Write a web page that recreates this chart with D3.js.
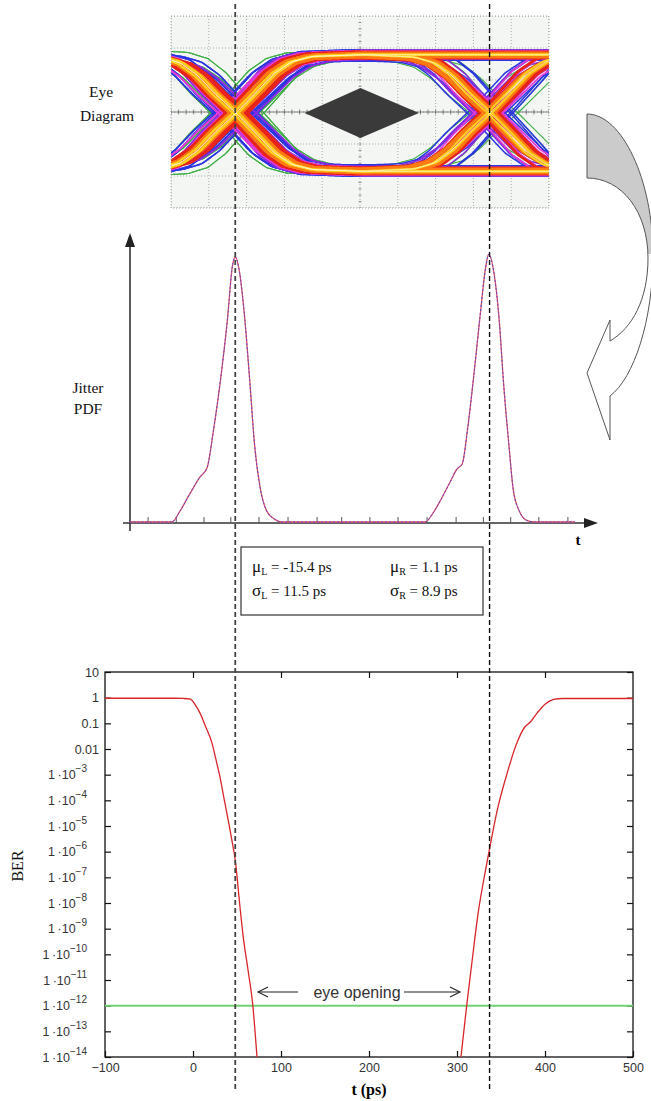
<!DOCTYPE html>
<html>
<head>
<meta charset="utf-8">
<script src="https://cdnjs.cloudflare.com/ajax/libs/d3/7.8.5/d3.min.js"></script>
<style>
  body { margin: 0; background: #fff; }
  svg { display: block; }
</style>
</head>
<body>
<svg id="chart" width="651" height="1101"></svg>
<script>
// ---------- data ----------

// BER plot
var tTicks = [-100, 0, 100, 200, 300, 400, 500];
var berTickExp = [1, 0, -1, -2, -3, -4, -5, -6, -7, -8, -9, -10, -11, -12, -13, -14];
var berLeftT = [-100, -20, -11, -3, 3, 8, 14, 21.6, 26, 30.7, 35, 40, 44, 48, 53.4, 57, 62.5, 68, 72.7];
var berLeftV = [0.95, 0.95, 0.93, 0.87, 0.5, 0.25, 0.08, 0.017, 4e-3, 8e-4, 1.3e-4, 1.7e-5, 3e-6, 4.7e-7, 7e-9, 5e-10, 2.5e-11, 1e-12, 1e-14];
var berRightT = [304.5, 311, 317, 324, 332, 337.5, 345, 357, 368, 377, 383, 391, 400, 410, 420, 500];
var berRightV = [1e-14, 1e-12, 5e-11, 4e-9, 1.6e-7, 1.6e-6, 3.2e-5, 1.15e-3, 0.017, 0.072, 0.11, 0.25, 0.56, 0.85, 0.93, 0.93];
var berTarget = 1e-12;
var edgeCenters = [48, 337];   // ps, where the dashed guide lines sit

// jitter PDF (normalised height)
var pdfT = [-72, -24, -15, -3, 8, 16, 23, 31, 39, 45, 48, 53, 59, 65, 70, 76, 84, 93, 101, 150, 200,
            264, 272, 281, 292, 300, 306, 312, 319, 326, 333, 336, 342, 348, 353, 359, 364, 371, 380, 388, 434];
var pdfV = [0, 0, 0.04, 0.11, 0.17, 0.205, 0.34, 0.53, 0.76, 0.97, 1.0, 0.94, 0.76, 0.51, 0.29, 0.135, 0.04, 0.01, 0, 0, 0,
            0, 0.03, 0.08, 0.15, 0.20, 0.22, 0.35, 0.55, 0.77, 0.97, 1.01, 0.94, 0.76, 0.52, 0.29, 0.12, 0.04, 0.005, 0, 0];
var pdfTicks = [-51, -19, 12.5, 43, 75, 108, 141, 169, 201, 233, 266, 299, 330, 361, 393, 426];

// fitted parameters
var statSymbols = ["μ", "σ"];
var statSides = ["L", "R"];
var statValues = [[-15.4, 1.1], [11.5, 8.9]];

// eye diagram: bits before / between / after the two crossings
var eyePatterns = [[0, 1, 0], [0, 1, 1], [1, 0, 1], [1, 0, 0]];
// edge shape: offset from crossing (UI) -> fraction of the swing
var edgeU = [-0.5, -0.3, -0.22, -0.15, -0.08, 0, 0.08, 0.15, 0.22, 0.3, 0.5];
var edgeF = [0, 0.02, 0.07, 0.18, 0.34, 0.5, 0.68, 0.84, 0.94, 0.985, 1];
// persistence layers, each trace = [jitter at crossing 0, jitter at crossing 1, amplitude offset]
var eyeLayers = [
  {color: "#3fae45", width: 1.1, traces: [[-0.10, 0.09, 0.07], [0.09, -0.08, -0.08], [-0.06, 0.11, -0.04], [0.11, 0.05, 0.09]]},
  {color: "#2b35e0", width: 1.5, traces: [[-0.08, -0.07, 0.05], [0.07, 0.06, -0.07], [-0.05, 0.08, 0.09], [0.06, -0.05, -0.09], [-0.09, 0.03, 0.0], [0.04, 0.09, 0.06], [0.085, -0.09, 0.02]]},
  {color: "#8b2be0", width: 1.5, traces: [[-0.06, 0.05, 0.07], [0.05, -0.06, -0.05], [-0.03, -0.07, 0.03], [0.08, 0.02, -0.07]]},
  {color: "#e23ad6", width: 1.7, traces: [[-0.05, -0.03, 0.06], [0.04, 0.05, -0.06], [0.0, -0.06, 0.08], [-0.07, 0.04, -0.03]]},
  {color: "#e8231c", width: 2.8, traces: [[-0.04, 0.03, 0.04], [0.03, -0.03, -0.04], [-0.02, -0.04, 0.055], [0.045, 0.035, -0.015], [-0.03, 0.0, -0.055]]},
  {color: "#ff7b12", width: 2.8, traces: [[-0.025, 0.02, 0.02], [0.02, -0.02, -0.02], [0.0, 0.01, 0.035], [-0.01, -0.025, -0.035]]},
  {color: "#ffd21e", width: 1.9, traces: [[-0.012, 0.008, 0.0], [0.01, -0.01, 0.015]]},
  {color: "#fff6c8", width: 0.8, traces: [[0, 0, 0.005]]}
];
// mask diamond (UI, level)
var eyeMask = [[0.27, 0], [0.49, 0.43], [0.72, 0], [0.49, -0.43]];

// ---------- drawing ----------
var svg = d3.select("#chart");
var defs = svg.append("defs");
var serif = "'Liberation Serif', 'Times New Roman', serif";
var sans = "'Liberation Sans', Arial, sans-serif";

// shared time scale (ps)
var x = d3.scaleLinear().domain([-100, 500]).range([105, 633]);

// ===== eye diagram =====
var eyeBox = {x0: 171, x1: 549, y0: 16, y1: 208};
var eyeX = d3.scaleLinear().domain([0, 1]).range([236, 490]);
var eyeY = d3.scaleLinear().domain([-1, 1]).range([171, 55]);
defs.append("clipPath").attr("id", "eyeClip").append("rect")
  .attr("x", eyeBox.x0).attr("y", eyeBox.y0)
  .attr("width", eyeBox.x1 - eyeBox.x0).attr("height", eyeBox.y1 - eyeBox.y0);

var eye = svg.append("g").attr("clip-path", "url(#eyeClip)");
eye.append("rect")
  .attr("x", eyeBox.x0).attr("y", eyeBox.y0)
  .attr("width", eyeBox.x1 - eyeBox.x0).attr("height", eyeBox.y1 - eyeBox.y0)
  .attr("fill", "#f4f6f4");

var colW = (eyeBox.x1 - eyeBox.x0) / 10, rowH = (eyeBox.y1 - eyeBox.y0) / 6;
d3.range(11).forEach(function(i) {
  eye.append("line")
    .attr("x1", eyeBox.x0 + i * colW).attr("x2", eyeBox.x0 + i * colW)
    .attr("y1", eyeBox.y0).attr("y2", eyeBox.y1)
    .attr("stroke", "#a9aca9").attr("stroke-width", 1).attr("stroke-dasharray", "1,2");
});
d3.range(7).forEach(function(i) {
  eye.append("line")
    .attr("x1", eyeBox.x0).attr("x2", eyeBox.x1)
    .attr("y1", eyeBox.y0 + i * rowH).attr("y2", eyeBox.y0 + i * rowH)
    .attr("stroke", "#a9aca9").attr("stroke-width", 1).attr("stroke-dasharray", "1,2");
});
// minor ticks on the centre axes
var cy = eyeBox.y0 + 3 * rowH, cx = eyeBox.x0 + 5 * colW;
d3.range(51).forEach(function(i) {
  eye.append("line")
    .attr("x1", eyeBox.x0 + i * colW / 5).attr("x2", eyeBox.x0 + i * colW / 5)
    .attr("y1", cy - 2.5).attr("y2", cy + 2.5)
    .attr("stroke", "#666").attr("stroke-width", 0.8);
});
d3.range(31).forEach(function(i) {
  eye.append("line")
    .attr("x1", cx - 1.5).attr("x2", cx + 1.5)
    .attr("y1", eyeBox.y0 + i * rowH / 5).attr("y2", eyeBox.y0 + i * rowH / 5)
    .attr("stroke", "#777").attr("stroke-width", 0.8);
});
eye.append("line").attr("x1", eyeBox.x0).attr("x2", eyeBox.x1).attr("y1", cy).attr("y2", cy)
  .attr("stroke", "#666").attr("stroke-width", 0.8);

var edgeStep = d3.scaleLinear().domain(edgeU).range(edgeF).clamp(true);
var uSamples = d3.range(-0.3, 1.27, 0.01);
var traceLine = d3.line().curve(d3.curveBasis);

eyeLayers.forEach(function(layer) {
  layer.traces.forEach(function(tr) {
    eyePatterns.forEach(function(p) {
      var s = p.map(function(b) { return 2 * b - 1; });
      var pts = uSamples.map(function(u) {
        var w = s[0] + (s[1] - s[0]) * edgeStep(u - tr[0]) + (s[2] - s[1]) * edgeStep(u - 1 - tr[1]);
        return [eyeX(u), eyeY(w * (1 + tr[2]))];
      });
      eye.append("path")
        .attr("d", traceLine(pts))
        .attr("fill", "none")
        .attr("stroke", layer.color)
        .attr("stroke-width", layer.width);
    });
  });
});

eye.append("polygon")
  .attr("points", eyeMask.map(function(d) { return eyeX(d[0]) + "," + eyeY(d[1]); }).join(" "))
  .attr("fill", "#3a3a3a");

svg.append("rect")
  .attr("x", eyeBox.x0).attr("y", eyeBox.y0)
  .attr("width", eyeBox.x1 - eyeBox.x0).attr("height", eyeBox.y1 - eyeBox.y0)
  .attr("fill", "none").attr("stroke", "#9a9d9a").attr("stroke-dasharray", "1,2");

// side labels
[["Eye", 101, 97], ["Diagram", 107, 121], ["Jitter", 88, 393], ["PDF", 88, 414]].forEach(function(d) {
  svg.append("text").attr("x", d[1]).attr("y", d[2])
    .attr("text-anchor", "middle")
    .style("font-family", serif).style("font-size", "15.5px").attr("fill", "#111")
    .text(d[0]);
});

// ===== curved arrow on the right =====
var arrowD = "M587,114 C622,114 653,180 653,255 C653,320 634,378 610,396 " +
             "L610,440 L587,373 L610,320 L610,341 " +
             "C632,328 648,300 648,258 C648,212 622,178 587,178 Z";
defs.append("clipPath").attr("id", "arrowTop").append("rect")
  .attr("x", 560).attr("y", 90).attr("width", 100).attr("height", 164);
svg.append("path").attr("d", arrowD).attr("fill", "#fff");
svg.append("path").attr("d", arrowD).attr("fill", "#cbcbcb").attr("clip-path", "url(#arrowTop)");
svg.append("path").attr("d", arrowD).attr("fill", "none").attr("stroke", "#555").attr("stroke-width", 1);

// ===== jitter PDF =====
var pdfY = d3.scaleLinear().domain([0, 1]).range([522, 257]);
var pdfAxisY = 523;
var pdfG = svg.append("g");
pdfG.append("line").attr("x1", 130).attr("x2", 130).attr("y1", 531).attr("y2", 244)
  .attr("stroke", "#333").attr("stroke-width", 1.6);
pdfG.append("path").attr("d", "M130,233 L125,247 L135,247 Z").attr("fill", "#222");
pdfG.append("line").attr("x1", 123).attr("x2", 588).attr("y1", pdfAxisY).attr("y2", pdfAxisY)
  .attr("stroke", "#333").attr("stroke-width", 1.6);
pdfG.append("path").attr("d", "M598,523 L584,518 L584,528 Z").attr("fill", "#222");
pdfTicks.forEach(function(t) {
  pdfG.append("line").attr("x1", x(t)).attr("x2", x(t)).attr("y1", pdfAxisY).attr("y2", pdfAxisY - 6)
    .attr("stroke", "#555").attr("stroke-width", 1);
});
var pdfPts = pdfT.map(function(t, i) { return [x(t), pdfY(pdfV[i])]; });
var pdfLine = d3.line().curve(d3.curveMonotoneX);
pdfG.append("path").attr("d", pdfLine(pdfPts)).attr("fill", "none")
  .attr("stroke", "#e0506a").attr("stroke-width", 1.3);
pdfG.append("path").attr("d", pdfLine(pdfPts)).attr("fill", "none")
  .attr("stroke", "#5a46c8").attr("stroke-width", 1).attr("stroke-dasharray", "2,2");
svg.append("text").attr("x", 578).attr("y", 545).attr("text-anchor", "middle")
  .style("font-family", serif).style("font-size", "15px").style("font-weight", "bold").text("t");

// ===== parameter box =====
svg.append("rect").attr("x", 241).attr("y", 547).attr("width", 242).attr("height", 68)
  .attr("fill", "#fff").attr("stroke", "#333").attr("stroke-width", 1.2);
statSymbols.forEach(function(sym, r) {
  statSides.forEach(function(side, c) {
    var t = svg.append("text")
      .attr("x", c === 0 ? 252 : 390).attr("y", 572 + r * 24)
      .style("font-family", serif).style("font-size", "15px").attr("fill", "#111");
    t.append("tspan").style("font-size", "17px").text(sym);
    t.append("tspan").style("font-size", "10px").attr("dy", 3).text(side);
    t.append("tspan").attr("dy", -3).text(" = " + statValues[r][c].toFixed(1) + " ps");
  });
});

// ===== BER plot =====
var y = d3.scaleLog().domain([1e-14, 10]).range([1057, 672]);
var berTicks = berTickExp.map(function(e) { return Math.pow(10, e); });
var plot = {x0: 105, x1: 633, y0: 672, y1: 1057};
defs.append("clipPath").attr("id", "berClip").append("rect")
  .attr("x", plot.x0).attr("y", plot.y0).attr("width", plot.x1 - plot.x0).attr("height", plot.y1 - plot.y0);

var axisStyle = function(g) {
  g.select(".domain").remove();
  g.selectAll(".tick line").attr("stroke", "#111").attr("stroke-width", 1.2);
  g.selectAll(".tick text").style("font-family", sans).style("font-size", "12.5px").attr("fill", "#333");
};
svg.append("g").attr("transform", "translate(0," + plot.y1 + ")")
  .call(d3.axisBottom(x).tickValues(tTicks).tickSizeInner(-6).tickSizeOuter(0).tickPadding(6))
  .call(axisStyle);
svg.append("g").attr("transform", "translate(0," + plot.y0 + ")")
  .call(d3.axisTop(x).tickValues(tTicks.slice(1, -1)).tickSizeInner(-6).tickSizeOuter(0).tickFormat(""))
  .call(axisStyle);
svg.append("g").attr("transform", "translate(" + plot.x0 + ",0)")
  .call(d3.axisLeft(y).tickValues(berTicks).tickSizeInner(-6).tickSizeOuter(0).tickFormat(""))
  .call(axisStyle);
svg.append("g").attr("transform", "translate(" + plot.x1 + ",0)")
  .call(d3.axisRight(y).tickValues(berTicks).tickSizeInner(-6).tickSizeOuter(0).tickFormat(""))
  .call(axisStyle);

// y tick labels, "1·10^-n" style
berTicks.forEach(function(v, i) {
  var e = berTickExp[i];
  var t = svg.append("text").attr("y", y(v)).attr("dy", "0.36em")
    .attr("text-anchor", "end")
    .style("font-family", sans).style("font-size", "12.5px").attr("fill", "#333");
  if (e >= -2) {
    t.attr("x", 99).text(d3.format("~g")(v));
  } else {
    t.attr("x", 87);
    t.append("tspan").text("1\u2009·10");
    t.append("tspan").attr("dy", -7).style("font-size", "10px").text("\u2212" + Math.abs(e));
  }
});

svg.append("rect").attr("x", plot.x0).attr("y", plot.y0)
  .attr("width", plot.x1 - plot.x0).attr("height", plot.y1 - plot.y0)
  .attr("fill", "none").attr("stroke", "#111").attr("stroke-width", 1.3);

var berG = svg.append("g").attr("clip-path", "url(#berClip)");
berG.append("line").attr("x1", plot.x0).attr("x2", plot.x1)
  .attr("y1", y(berTarget)).attr("y2", y(berTarget))
  .attr("stroke", "#6fd46f").attr("stroke-width", 2);
var berLine = d3.line().x(function(d) { return x(d[0]); }).y(function(d) { return y(d[1]); })
  .curve(d3.curveMonotoneX);
[[berLeftT, berLeftV], [berRightT, berRightV]].forEach(function(s) {
  berG.append("path")
    .attr("d", berLine(s[0].map(function(t, i) { return [t, s[1][i]]; })))
    .attr("fill", "none").attr("stroke", "#d9252a").attr("stroke-width", 1.3);
});

// eye opening annotation
var annY = 992;
svg.append("text").attr("x", 357).attr("y", 998).attr("text-anchor", "middle")
  .style("font-family", sans).style("font-size", "16px").attr("fill", "#333").text("eye opening");
[[298, 258], [404, 460]].forEach(function(a) {
  var dir = a[1] > a[0] ? 1 : -1;
  svg.append("line").attr("x1", a[0]).attr("x2", a[1]).attr("y1", annY).attr("y2", annY)
    .attr("stroke", "#222").attr("stroke-width", 1.1);
  svg.append("path")
    .attr("d", "M" + (a[1] - dir * 10) + "," + (annY - 5) + " L" + a[1] + "," + annY + " L" + (a[1] - dir * 10) + "," + (annY + 5))
    .attr("fill", "none").attr("stroke", "#222").attr("stroke-width", 1.1);
});

svg.append("text").attr("transform", "translate(23,866) rotate(-90)")
  .attr("text-anchor", "middle")
  .style("font-family", serif).style("font-size", "16px").attr("fill", "#111").text("BER");
svg.append("text").attr("x", 369).attr("y", 1095).attr("text-anchor", "middle")
  .style("font-family", serif).style("font-size", "16px").style("font-weight", "bold").text("t (ps)");

// ===== dashed guide lines through all panels =====
edgeCenters.forEach(function(t, i) {
  svg.append("line").attr("x1", x(t)).attr("x2", x(t)).attr("y1", 4).attr("y2", 1090)
    .attr("stroke", i === 0 ? "#444" : "#111")
    .attr("stroke-width", i === 0 ? 1.8 : 1.4)
    .attr("stroke-dasharray", "5,3");
});
</script>
</body>
</html>
